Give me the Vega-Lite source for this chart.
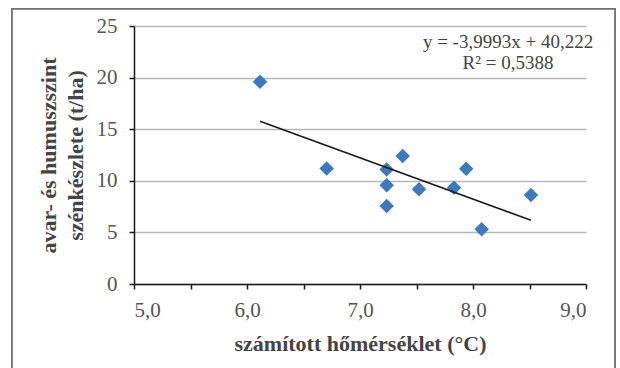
{
  "$schema": "https://vega.github.io/schema/vega-lite/v6.json",
  "width": 452,
  "height": 258,
  "autosize": {"type": "none"},
  "padding": {"left": 134, "top": 26, "right": 34, "bottom": 84},
  "background": "white",
  "config": {
    "locale": {"number": {"decimal": ",", "thousands": " ", "grouping": [3], "currency": ["", " Ft"]}},
    "view": {"stroke": null},
    "font": "Liberation Serif, Times New Roman, DejaVu Serif, serif"
  },
  "datasets": {
    "points": [
      {"homerseklet": 6.115, "szenkeszlet": 19.6},
      {"homerseklet": 6.705, "szenkeszlet": 11.2},
      {"homerseklet": 7.236, "szenkeszlet": 11.1},
      {"homerseklet": 7.378, "szenkeszlet": 12.4},
      {"homerseklet": 7.236, "szenkeszlet": 9.56},
      {"homerseklet": 7.236, "szenkeszlet": 7.56},
      {"homerseklet": 7.522, "szenkeszlet": 9.17},
      {"homerseklet": 7.832, "szenkeszlet": 9.33},
      {"homerseklet": 7.94, "szenkeszlet": 11.17},
      {"homerseklet": 8.077, "szenkeszlet": 5.3},
      {"homerseklet": 8.513, "szenkeszlet": 8.62}
    ],
    "trend": [
      {"homerseklet": 6.115, "szenkeszlet": 15.766},
      {"homerseklet": 8.513, "szenkeszlet": 6.176}
    ],
    "egyenlet": [
      {"felirat": ["y = -3,9993x + 40,222", "R² = 0,5388"]}
    ]
  },
  "layer": [
    {
      "data": {"name": "egyenlet"},
      "mark": {"type": "rect", "fill": null, "stroke": "#707070", "strokeWidth": 1.8},
      "encoding": {
        "x": {"datum": 3.92, "type": "quantitative", "scale": {"domain": [5, 9], "nice": false, "zero": false}},
        "x2": {"datum": 9.257},
        "y": {"datum": 26.65, "type": "quantitative", "scale": {"domain": [0, 25], "nice": false}},
        "y2": {"datum": -8.8}
      }
    },
    {
      "data": {"name": "points"},
      "mark": {"type": "point", "shape": "diamond", "filled": true, "color": "#3c7abf", "size": 210, "opacity": 1},
      "encoding": {
        "x": {
          "field": "homerseklet",
          "type": "quantitative",
          "scale": {"domain": [5, 9], "nice": false, "zero": false},
          "axis": {
            "title": "számított hőmérséklet (°C)",
            "values": [5, 5.5, 6, 6.5, 7, 7.5, 8, 8.5, 9],
            "format": ".1f",
            "labelExpr": "datum.value % 1 === 0 ? datum.label : ''",
            "grid": false,
            "domainColor": "#1a1a1a",
            "domainWidth": 1.5,
            "tickColor": "#1a1a1a",
            "tickWidth": 1.5,
            "tickSize": 5,
            "labelFont": "Liberation Serif, Times New Roman, DejaVu Serif, serif",
            "labelFontSize": 21,
            "labelColor": "#555555",
            "labelPadding": 10,
            "titleFont": "Liberation Serif, Times New Roman, DejaVu Serif, serif",
            "titleFontSize": 22,
            "titleFontWeight": "bold",
            "titleColor": "#444444",
            "titlePadding": 13
          }
        },
        "y": {
          "field": "szenkeszlet",
          "type": "quantitative",
          "scale": {"domain": [0, 25], "nice": false},
          "axis": {
            "title": ["avar- és humuszszint", "szénkészlete (t/ha)"],
            "values": [0, 5, 10, 15, 20, 25],
            "grid": true,
            "gridColor": "#b8b8b8",
            "gridWidth": 1.5,
            "domainColor": "#1a1a1a",
            "domainWidth": 1.5,
            "tickColor": "#1a1a1a",
            "tickWidth": 1.5,
            "tickSize": 5,
            "labelFont": "Liberation Serif, Times New Roman, DejaVu Serif, serif",
            "labelFontSize": 21,
            "labelColor": "#555555",
            "labelPadding": 12,
            "titleFont": "Liberation Serif, Times New Roman, DejaVu Serif, serif",
            "titleFontSize": 22,
            "titleFontWeight": "bold",
            "titleColor": "#444444",
            "titleLineHeight": 27,
            "titlePadding": 9
          }
        }
      }
    },
    {
      "data": {"name": "trend"},
      "mark": {"type": "line", "color": "#1a1a1a", "strokeWidth": 1.6},
      "encoding": {
        "x": {"field": "homerseklet", "type": "quantitative"},
        "y": {"field": "szenkeszlet", "type": "quantitative"}
      }
    },
    {
      "data": {"name": "egyenlet"},
      "mark": {
        "type": "text",
        "font": "Liberation Serif, Times New Roman, DejaVu Serif, serif",
        "fontSize": 19,
        "color": "#444444",
        "align": "center",
        "baseline": "middle",
        "lineHeight": 21
      },
      "encoding": {
        "text": {"field": "felirat"},
        "x": {"datum": 8.31, "type": "quantitative"},
        "y": {"datum": 23.45, "type": "quantitative"}
      }
    }
  ]
}
